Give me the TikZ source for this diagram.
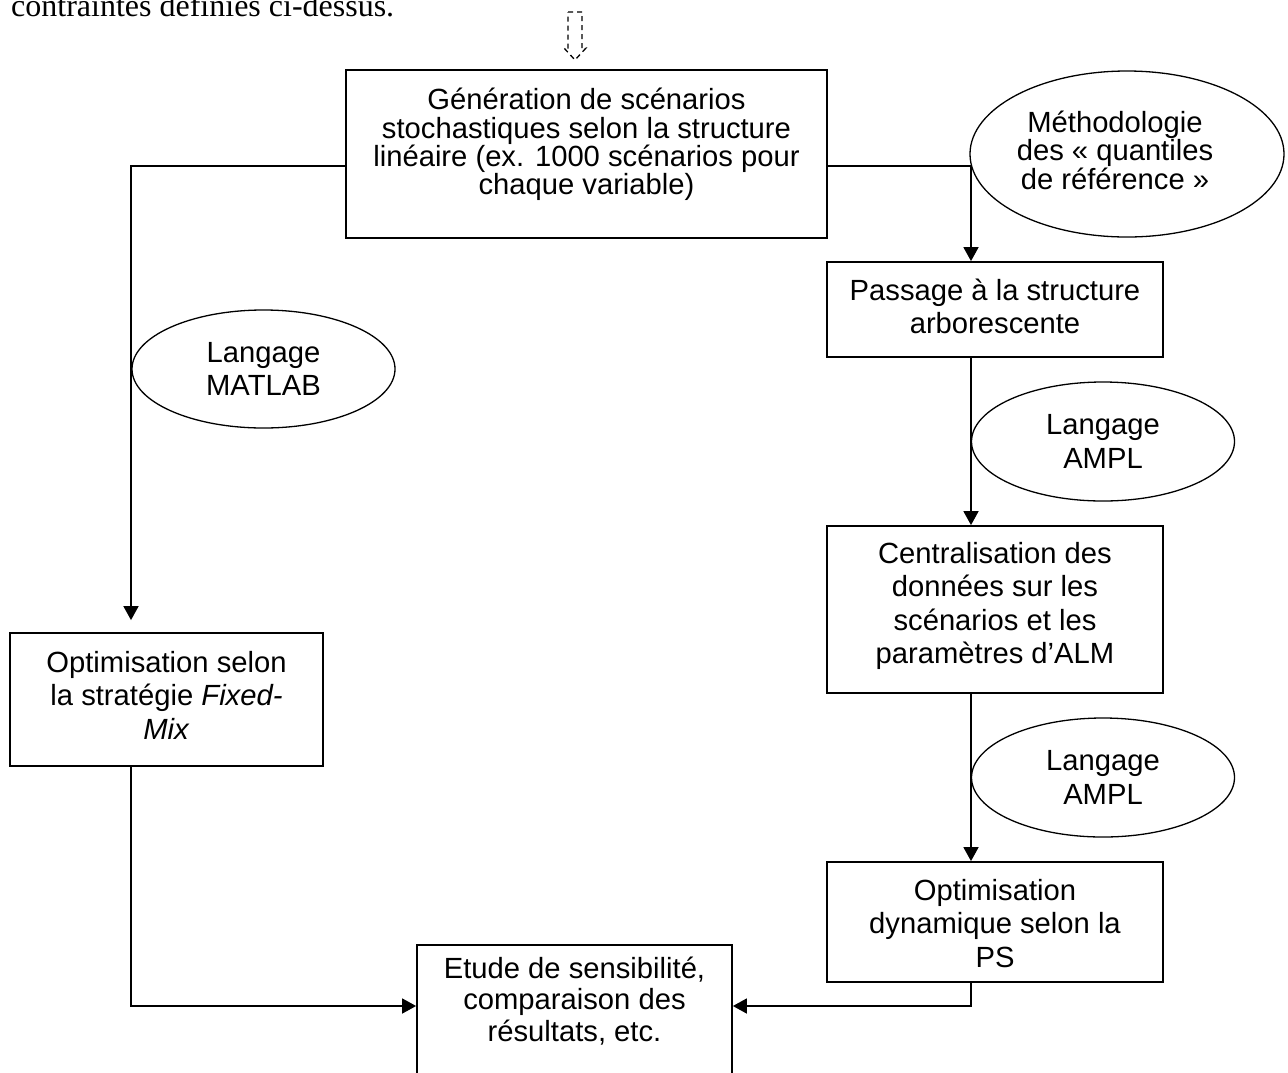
\documentclass[tikz,border=0pt]{standalone}
\usepackage{fontspec}
\setmainfont{Liberation Sans}
\newfontfamily\serifTNR{Liberation Serif}
\usetikzlibrary{arrows.meta,shapes.geometric}
\begin{document}
\begin{tikzpicture}[x=1pt,y=-1pt,
  box/.style={draw, line width=1.8pt, rectangle, inner sep=0pt},
  oval/.style={draw, line width=1.3pt, ellipse, inner sep=0pt, align=center,
    font=\fontsize{29.2pt}{33.5pt}\selectfont},
  txt/.style={align=center, inner sep=0pt, font=\fontsize{29.2pt}{33.5pt}\selectfont},
  conn/.style={line width=1.7pt, -{Triangle[length=14pt,width=15pt]}}]
\useasboundingbox (0,0) rectangle (1288,1072);
\begin{scope}
  \clip (0,0) rectangle (1288,1072);
  \node[anchor=base west, inner sep=0pt, font=\serifTNR\fontsize{32pt}{38pt}\selectfont] (intro) at (11,16) {contraintes définies ci-dessus.};
  % dashed block arrow
  \draw[line width=1.3pt, dash pattern=on 5pt off 4pt]
    (568,12) -- (582,12) -- (582,48) -- (586,48) -- (575,60) -- (564,48) -- (568,48) -- cycle;

  % boxes
  \node[box, minimum width=481pt, minimum height=168pt] (gen) at (586.5,154) {};
  \node[txt, font=\fontsize{29.2pt}{28.4pt}\selectfont] (gentxt) at (586.5,144.5)
    {Génération de scénarios\\stochastiques selon la structure\\linéaire (ex. 1000 scénarios pour\\chaque variable)};

  \node[box, minimum width=336pt, minimum height=95pt] (passage) at (995,309.5) {};
  \node[txt] (passagetxt) at (995,306.5) {Passage à la structure\\arborescente};

  \node[box, minimum width=336pt, minimum height=167pt] (central) at (995,609.5) {};
  \node[txt] (centraltxt) at (995,606) {Centralisation des\\données sur les\\scénarios et les\\paramètres d’ALM};

  \node[box, minimum width=336pt, minimum height=120pt] (optdyn) at (995,922) {};
  \node[txt] (optdyntxt) at (995,923.5) {Optimisation\\dynamique selon la\\PS};

  \node[box, minimum width=313pt, minimum height=133pt] (fixed) at (166.5,699.5) {};
  \node[txt] (fixedtxt) at (166.5,695) {Optimisation selon\\la stratégie \textit{Fixed-}\\\textit{Mix}};

  \node[box, minimum width=315pt, minimum height=140pt] (etude) at (574.5,1015) {};
  \node[txt, font=\fontsize{29.2pt}{31.5pt}\selectfont] (etudetxt) at (574.5,1001) {Etude de sensibilité,\\comparaison des\\résultats, etc.};

  % ellipses
  \node[oval, minimum width=314pt, minimum height=166pt] (meth) at (1127,154) {};
  \node[txt, font=\fontsize{29.2pt}{28.5pt}\selectfont] (methtxt) at (1115,150) {Méthodologie\\des « quantiles\\de référence »};

  \node[oval, minimum width=263pt, minimum height=118pt] (matlab) at (263.5,369) {Langage\\MATLAB};
  \node[oval, minimum width=263pt, minimum height=119pt] (ampla) at (1103,441.5) {Langage\\AMPL};
  \node[oval, minimum width=263pt, minimum height=119pt] (amplb) at (1103,777.5) {Langage\\AMPL};

  % connectors
  \draw[conn, shorten >=12pt] ([yshift=-12pt]gen.west) -| ([xshift=-35.5pt]fixed.north);
  \draw[conn] ([yshift=-12pt]gen.east) -| ([xshift=-24pt]passage.north);
  \draw[conn] ([xshift=-24pt]passage.south) -- ([xshift=-24pt]central.north);
  \draw[conn] ([xshift=-24pt]central.south) -- ([xshift=-24pt]optdyn.north);
  \draw[conn] ([xshift=-24pt]optdyn.south) |- ([yshift=9pt]etude.east);
  \draw[conn] ([xshift=-35.5pt]fixed.south) |- ([yshift=9pt]etude.west);
\end{scope}
\end{tikzpicture}
\end{document}
